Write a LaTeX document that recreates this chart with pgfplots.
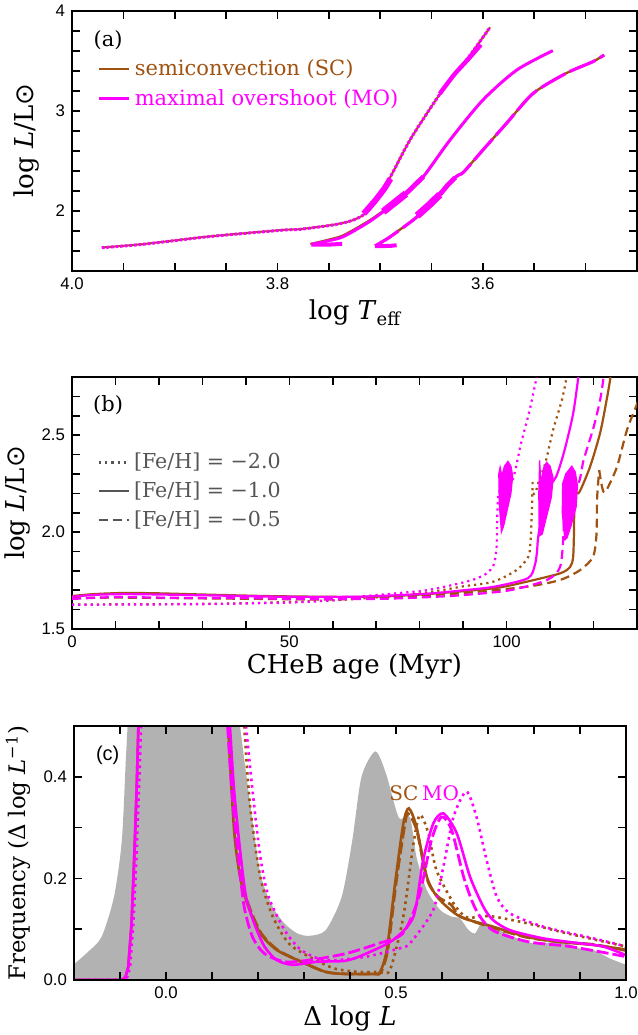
\documentclass[border=0pt]{standalone}
\usepackage{pgfplots}
\pgfplotsset{compat=1.18}
\usepackage{fontspec}
\setmainfont{DejaVu Serif}
\newfontfamily\tickfont{Liberation Sans}
\newfontfamily\symfont{DejaVu Sans}
\definecolor{scb}{RGB}{160,82,16}
\definecolor{mo}{RGB}{255,0,255}
\definecolor{legc}{RGB}{85,85,85}

\pgfplotsset{
  panel/.style={
    scale only axis,
    axis line style={line width=0.9pt},
    tick style={line width=0.8pt, black},
    major tick length=4pt, minor tick length=4pt,
    tick align=inside,
    tick label style={font=\tickfont\fontsize{8.4}{9}\selectfont},
    label style={font=\fontsize{13}{15}\selectfont},
    legend image code/.code={\draw[#1] (0pt,0pt) -- (15pt,0pt);},
  },
  sm/.style={smooth, tension=0.45},
}

\begin{document}
\begin{tikzpicture}
% ---------------- (a) HR diagram
\begin{axis}[panel,
  at={(36pt,-5.35pt)}, anchor=north west,
  width=282.5pt, height=130pt,
  x dir=reverse, xmin=3.45, xmax=4.0, ymin=1.4, ymax=4.0,
  xtick={3.6,3.8,4.0}, xticklabels={3.6,3.8,4.0},
  minor xtick={3.45,3.5,3.55,3.65,3.7,3.75,3.85,3.9,3.95},
  ytick={2,3,4}, yticklabels={2,3,4},
  minor ytick={1.4,1.6,1.8,2.2,2.4,2.6,2.8,3.2,3.4,3.6,3.8},
  xlabel={log \textit{T}\raisebox{-0.4ex}{\fontsize{9}{9}\selectfont eff}},
  ylabel={log \textit{L}/L{\symfont ⊙}},
  xlabel style={at={(axis description cs:0.5,0)}, anchor=center, yshift=-21pt},
  ylabel style={at={(axis description cs:-0.081,0.5)}, anchor=center},
  legend style={at={(axis description cs:0.045,0.83)}, anchor=north west,
    draw=none, fill=none, font=\fontsize{10.5}{12}\selectfont, row sep=1.5pt, inner sep=0pt},
  legend cell align=left,
]
% SC tracks
\addplot[scb, sm, line width=1pt, forget plot] coordinates {
(3.971,1.632) (3.93,1.667) (3.872,1.737) (3.83,1.777) (3.793,1.809) (3.778,1.816)
(3.746,1.859) (3.728,1.90) (3.716,1.96) (3.705,2.08) (3.69,2.34) (3.671,2.707)
(3.648,3.074) (3.632,3.307) (3.616,3.507) (3.593,3.834)};
\addplot[scb, sm, line width=1pt, forget plot] coordinates {
(3.768,1.668) (3.75,1.712) (3.736,1.755) (3.713,1.888) (3.697,2.0) (3.676,2.17)
(3.658,2.345) (3.632,2.71) (3.600,3.107) (3.567,3.407) (3.532,3.60)};
\addplot[scb, sm, line width=1.2pt, forget plot] coordinates {
(3.705,1.649) (3.693,1.722) (3.681,1.809) (3.664,1.942) (3.645,2.142) (3.626,2.342)
(3.619,2.386) (3.600,2.607) (3.577,2.874) (3.551,3.174) (3.519,3.374) (3.493,3.49) (3.482,3.557)};
% MO tracks
\addplot[mo, sm, line width=1.5pt, dash pattern=on 1.4pt off 0.9pt, forget plot] coordinates {
(3.971,1.630) (3.93,1.665) (3.872,1.735) (3.83,1.775) (3.793,1.807) (3.778,1.814)
(3.746,1.857) (3.728,1.90) (3.716,1.96) (3.705,2.08) (3.69,2.34) (3.671,2.707)
(3.648,3.074) (3.632,3.307) (3.616,3.507) (3.593,3.834)};
\addplot[mo, sm, line width=3pt, forget plot] coordinates {(3.716,1.97) (3.705,2.1) (3.696,2.22) (3.690,2.32)};
\addplot[mo, sm, line width=2.2pt, forget plot] coordinates {(3.642,3.17) (3.628,3.36) (3.613,3.53) (3.602,3.66)};
\addplot[mo, sm, line width=1.5pt, forget plot] coordinates {
(3.767,1.662) (3.75,1.70) (3.736,1.74) (3.713,1.874) (3.697,1.99) (3.676,2.16)
(3.658,2.34) (3.632,2.707) (3.600,3.107) (3.567,3.407) (3.532,3.60)};
\addplot[mo, line width=2pt, forget plot] coordinates {(3.767,1.660) (3.75,1.661) (3.737,1.668)};
\addplot[mo, line width=3.6pt, forget plot] coordinates {(3.697,1.99) (3.686,2.08) (3.675,2.17)};
\addplot[mo, line width=2.4pt, forget plot] coordinates {(3.675,2.17) (3.666,2.26) (3.658,2.34)};
\addplot[mo, sm, line width=1.6pt, dash pattern=on 14pt off 2.5pt, forget plot] coordinates {
(3.705,1.647) (3.693,1.72) (3.681,1.807) (3.664,1.94) (3.645,2.14) (3.626,2.34)
(3.619,2.384) (3.600,2.607) (3.577,2.874) (3.551,3.174) (3.519,3.374) (3.493,3.49) (3.482,3.557)};
\addplot[mo, line width=2pt, forget plot] coordinates {(3.705,1.645) (3.69,1.648) (3.684,1.655)};
\addplot[mo, line width=3.6pt, forget plot] coordinates {(3.664,1.95) (3.652,2.06) (3.642,2.16)};
\addplot[mo, line width=2.4pt, forget plot] coordinates {(3.642,2.16) (3.634,2.26) (3.627,2.33)};
\addlegendimage{scb, line width=1.2pt}
\addlegendentry{\textcolor{scb}{semiconvection (SC)}}
\addlegendimage{mo, line width=1.5pt}
\addlegendentry{\textcolor{mo}{maximal overshoot (MO)}}
\node[font=\fontsize{10.5}{12}\selectfont] at (axis description cs:0.064,0.888) {(a)};
\end{axis}

% ---------------- (b) luminosity vs CHeB age
\begin{axis}[panel,
  at={(36pt,-188.5pt)}, anchor=north west,
  width=282.5pt, height=126pt,
  xmin=0, xmax=130, ymin=1.5, ymax=2.8,
  xtick={0,50,100}, xticklabels={0,50,100},
  minor xtick={10,20,30,40,60,70,80,90,110,120},
  ytick={1.5,2.0,2.5}, yticklabels={1.5,2.0,2.5},
  minor ytick={1.6,1.7,1.8,1.9,2.1,2.2,2.3,2.4,2.6,2.7},
  xlabel={CHeB age (Myr)},
  ylabel={log \textit{L}/L{\symfont ⊙}},
  xlabel style={at={(axis description cs:0.5,0)}, anchor=center, yshift=-19pt},
  ylabel style={at={(axis description cs:-0.096,0.5)}, anchor=center},
  legend style={at={(axis description cs:0.045,0.715)}, anchor=north west,
    draw=none, fill=none, text=legc, font=\fontsize{10.3}{12}\selectfont, row sep=1pt, inner sep=0pt},
  legend cell align=left,
]
% SC
\addplot[scb, sm, line width=1.1pt, dotted, forget plot] coordinates {
(0,1.627) (20,1.628) (40,1.633) (60,1.648) (70,1.663) (77.1,1.675) (85,1.70) (90,1.72)
(96.9,1.744) (102.3,1.804) (105,1.873) (105.5,1.95) (105.8,2.1) (106.0,2.27)};
\addplot[scb, sm, line width=1.1pt, dotted, forget plot] coordinates {
(106.05,2.2) (106.6,2.2) (107.5,2.27) (108.9,2.355) (110.7,2.527) (112.7,2.68) (113.8,2.8) (114.2,2.9)};
\addplot[scb, sm, line width=1.1pt, forget plot] coordinates {
(0,1.67) (5,1.68) (12,1.686) (20,1.684) (30,1.678) (45,1.67) (60,1.666) (70,1.667)
(81.6,1.68) (97,1.71) (104.6,1.744) (112.3,1.787) (114.6,1.82) (115.3,1.87) (115.5,2.0)
(115.6,2.15) (116.0,2.2) (116.8,2.208) (119.2,2.337) (121.5,2.51) (123.0,2.68) (123.9,2.8) (124.2,2.9)};
\addplot[scb, sm, line width=1.1pt, dash pattern=on 4.5pt off 2.5pt, forget plot] coordinates {
(0,1.66) (10,1.662) (20,1.66) (40,1.656) (60,1.652) (66.3,1.658) (80,1.672) (89.3,1.684)
(104.6,1.718) (112.3,1.753) (116.9,1.804) (119.9,1.873) (120.7,1.994) (120.8,2.166)
(121.3,2.32)};
\addplot[scb, sm, line width=1.1pt, dash pattern=on 4.5pt off 2.5pt, forget plot] coordinates {
(121.3,2.32) (121.8,2.25) (122.3,2.208) (123,2.217) (125.4,2.337) (127.7,2.527) (130,2.66) (131,2.72)};
% MO
\addplot[mo, sm, line width=1.1pt, dotted, forget plot] coordinates {
(0,1.625) (10,1.626) (20,1.627) (30,1.628) (40,1.632) (50,1.636) (60,1.648) (66.3,1.667)
(75,1.685) (81.6,1.70) (89.3,1.736) (93,1.76) (95.4,1.787) (97.0,1.83) (97.7,1.925)
(98.2,2.2) (101.3,2.265) (103.3,2.456) (105.2,2.62) (106.9,2.8) (107.5,2.9)};
\addplot[mo, sm, line width=1.1pt, forget plot] coordinates {
(0,1.666) (5,1.676) (12,1.68) (20,1.678) (30,1.674) (40,1.67) (50,1.666) (66.3,1.667)
(81.6,1.682) (89.3,1.698) (97.1,1.718) (104.9,1.762) (106.5,1.83) (107.0,1.90) (107.3,1.98)
(109,2.2) (111.4,2.286) (113.3,2.42) (115.3,2.61) (116.5,2.8) (117,2.9)};
\addplot[mo, sm, line width=1.1pt, dash pattern=on 4.5pt off 2.5pt, forget plot] coordinates {
(0,1.655) (10,1.665) (20,1.662) (30,1.66) (40,1.66) (50,1.655) (60,1.655) (70,1.655)
(81.6,1.664) (90,1.675) (100.8,1.70) (109.3,1.753) (112.3,1.82) (113.1,1.995) (113.3,2.2)
(116.5,2.25) (117.7,2.37) (120,2.54) (121.5,2.68) (122.3,2.8) (122.5,2.9)};
% MO loops
\addplot[mo, fill=mo, line width=0.6pt, forget plot] coordinates {
(98.8,2.0) (98.3,2.15) (98.2,2.30) (98.5,2.335) (98.9,2.29) (99.5,2.34) (100.3,2.365)
(101.0,2.34) (101.4,2.29) (101.0,2.20) (100.0,2.10) (99.3,2.03)} -- cycle;
\addplot[mo, fill=mo, line width=0.6pt, forget plot] coordinates {
(107.5,1.98) (107.4,2.2) (107.6,2.37) (107.9,2.25) (108.5,2.33) (109.2,2.36) (110.0,2.34)
(110.7,2.28) (110.3,2.18) (109.2,2.08) (108.2,1.99)} -- cycle;
\addplot[mo, fill=mo, line width=0.6pt, forget plot] coordinates {
(113.4,1.96) (112.8,2.1) (112.9,2.25) (113.6,2.3) (114.3,2.32) (115.0,2.34) (115.8,2.31)
(116.3,2.24) (116.0,2.13) (114.8,2.03) (113.9,1.97)} -- cycle;
\addlegendimage{legc, line width=1.1pt, dotted}
\addlegendentry{{[Fe/H]} = −2.0}
\addlegendimage{legc, line width=1.1pt}
\addlegendentry{{[Fe/H]} = −1.0}
\addlegendimage{legc, line width=1.1pt, dash pattern=on 4.5pt off 2.5pt}
\addlegendentry{{[Fe/H]} = −0.5}
\node[font=\fontsize{10.5}{12}\selectfont] at (axis description cs:0.064,0.888) {(b)};
\end{axis}

% ---------------- (c) luminosity function
\begin{axis}[panel,
  at={(37pt,-363pt)}, anchor=north west,
  width=276pt, height=127pt,
  xmin=-0.2, xmax=1.0, ymin=0, ymax=0.5,
  xtick={0,0.5,1}, xticklabels={0.0,0.5,1.0},
  minor xtick={-0.1,0.1,0.2,0.3,0.4,0.6,0.7,0.8,0.9},
  ytick={0,0.2,0.4}, yticklabels={0.0,0.2,0.4},
  minor ytick={0.1,0.3,0.5},
  axis on top,
  xlabel={Δ log \textit{L}},
  ylabel={Frequency (Δ log \textit{L}\textsuperscript{−1})},
  xlabel style={at={(axis description cs:0.5,0)}, anchor=center, yshift=-19pt},
  ylabel style={at={(axis description cs:-0.101,0.5)}, anchor=center, font=\fontsize{11.4}{13}\selectfont},
]
\addplot[draw=none, fill=gray!60, sm] coordinates {
(-0.2,0.031) (-0.17,0.055) (-0.14,0.085) (-0.113,0.164) (-0.096,0.275) (-0.087,0.44)
(-0.08,0.55) (-0.06,0.8) (0.0,1.0) (0.1,0.9) (0.15,0.6) (0.161,0.5) (0.179,0.374)
(0.205,0.21) (0.232,0.144) (0.258,0.111) (0.285,0.092) (0.311,0.087) (0.347,0.098)
(0.382,0.164) (0.405,0.275) (0.425,0.40) (0.455,0.450) (0.478,0.407) (0.506,0.32)
(0.53,0.321) (0.545,0.24) (0.567,0.177) (0.596,0.138) (0.62,0.125) (0.639,0.121)
(0.658,0.098) (0.672,0.092) (0.684,0.110) (0.697,0.112) (0.745,0.089) (0.799,0.072)
(0.857,0.075) (0.90,0.062) (0.929,0.059) (0.966,0.042) (1.0,0.03)} \closedcycle;
% SC
\addplot[scb, line width=1.3pt] coordinates {
(-0.2,0) (-0.096,0) (-0.088,0.006) (-0.082,0.026) (-0.075,0.11) (-0.069,0.243) (-0.064,0.37) (-0.06,0.5) (-0.055,0.6)};
\addplot[scb, sm, line width=1.3pt, dotted] coordinates {
(0.17,0.5) (0.183,0.341) (0.205,0.203) (0.232,0.125) (0.267,0.072) (0.311,0.046)
(0.365,0.023) (0.418,0.016) (0.462,0.016) (0.487,0.02) (0.516,0.125) (0.538,0.269)
(0.552,0.325) (0.570,0.29) (0.588,0.216) (0.625,0.151) (0.646,0.128) (0.66,0.122)
(0.68,0.125) (0.711,0.125) (0.784,0.112) (0.857,0.095) (0.93,0.08) (1.0,0.066)};
\addplot[scb, sm, line width=1.4pt, dash pattern=on 6pt off 2pt] coordinates {
(0.137,0.5) (0.152,0.295) (0.163,0.203) (0.181,0.144) (0.207,0.092) (0.243,0.059)
(0.294,0.036) (0.347,0.016) (0.391,0.012) (0.453,0.012) (0.467,0.015) (0.482,0.059)
(0.50,0.19) (0.518,0.30) (0.526,0.328) (0.545,0.295) (0.567,0.20) (0.59,0.165)
(0.62,0.148) (0.64,0.125) (0.711,0.103) (0.784,0.084) (0.857,0.075) (0.929,0.070) (1.0,0.058)};
\addplot[scb, sm, line width=1.3pt] coordinates {
(0.135,0.5) (0.148,0.295) (0.161,0.203) (0.179,0.144) (0.205,0.092) (0.241,0.059)
(0.294,0.036) (0.347,0.016) (0.391,0.012) (0.453,0.012) (0.465,0.015) (0.48,0.059)
(0.498,0.19) (0.516,0.308) (0.528,0.338) (0.545,0.30) (0.567,0.203) (0.592,0.161)
(0.639,0.125) (0.711,0.105) (0.784,0.085) (0.857,0.075) (0.929,0.069) (1.0,0.06)};
% MO
\addplot[mo, line width=1.3pt, dotted] coordinates {
(-0.2,0) (-0.092,0) (-0.084,0.006) (-0.078,0.026) (-0.071,0.11) (-0.064,0.243) (-0.059,0.37) (-0.054,0.5)};
\addplot[mo, sm, line width=1.3pt, dotted] coordinates {
(0.174,0.5) (0.188,0.374) (0.205,0.243) (0.223,0.164) (0.258,0.098) (0.294,0.059)
(0.347,0.039) (0.435,0.046) (0.506,0.062) (0.53,0.072) (0.581,0.138) (0.603,0.223)
(0.625,0.321) (0.653,0.371) (0.675,0.321) (0.697,0.236) (0.719,0.164) (0.748,0.131)
(0.82,0.105) (0.929,0.082) (1.0,0.066)};
\addplot[mo, sm, line width=1.4pt, dash pattern=on 6pt off 2pt] coordinates {
(0.134,0.5) (0.143,0.374) (0.157,0.243) (0.17,0.144) (0.188,0.085) (0.214,0.052)
(0.258,0.036) (0.311,0.039) (0.391,0.052) (0.462,0.072) (0.515,0.092) (0.55,0.164)
(0.577,0.275) (0.599,0.321) (0.621,0.295) (0.648,0.2) (0.674,0.138) (0.71,0.098)
(0.789,0.075) (0.878,0.066) (1.0,0.046)};
\addplot[mo, line width=1.3pt] coordinates {
(-0.2,0) (-0.096,0) (-0.088,0.006) (-0.082,0.026) (-0.075,0.11) (-0.069,0.243) (-0.064,0.37) (-0.06,0.5) (-0.055,0.6)};
\addplot[mo, sm, line width=1.3pt] coordinates {
(0.139,0.5) (0.148,0.374) (0.161,0.256) (0.174,0.164) (0.192,0.111) (0.214,0.066)
(0.241,0.039) (0.276,0.03) (0.329,0.036) (0.391,0.038) (0.435,0.052) (0.494,0.079)
(0.538,0.125) (0.559,0.236) (0.581,0.308) (0.603,0.328) (0.632,0.289) (0.661,0.203)
(0.69,0.144) (0.711,0.118) (0.748,0.098) (0.82,0.082) (0.893,0.073) (0.95,0.066) (1.0,0.049)};
\node[scb, font=\fontsize{10}{12}\selectfont] at (axis cs:0.517,0.368) {SC};
\node[mo, font=\fontsize{10}{12}\selectfont] at (axis cs:0.597,0.368) {MO};
\node[font=\tickfont\fontsize{10}{12}\selectfont] at (axis description cs:0.061,0.886) {(c)};
\end{axis}
\pgfresetboundingbox
\path (0,0) rectangle (319pt,-517.5pt);
\end{tikzpicture}
\end{document}
